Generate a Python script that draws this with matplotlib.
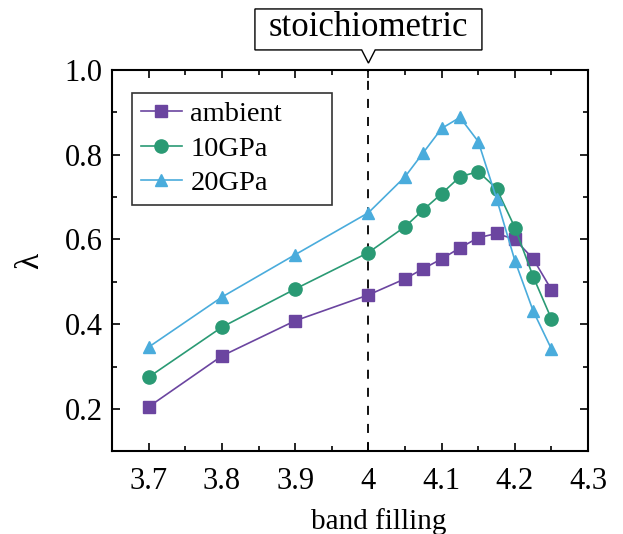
import matplotlib
matplotlib.use("Agg")
import matplotlib.pyplot as plt
from matplotlib.patches import Polygon
from matplotlib.ticker import MultipleLocator
import matplotlib.transforms as mtransforms

plt.rcParams["font.family"] = ["Liberation Serif", "DejaVu Serif"]

filling = [3.7, 3.8, 3.9, 4.0, 4.05, 4.075, 4.1, 4.125, 4.15, 4.175, 4.2, 4.225, 4.25]
lam_ambient = [0.205, 0.325, 0.408, 0.469, 0.507, 0.531, 0.554, 0.580, 0.604, 0.614, 0.600, 0.554, 0.481]
lam_10gpa = [0.275, 0.393, 0.483, 0.569, 0.630, 0.670, 0.708, 0.748, 0.760, 0.720, 0.628, 0.512, 0.412]
lam_20gpa = [0.346, 0.464, 0.564, 0.663, 0.748, 0.805, 0.862, 0.888, 0.831, 0.696, 0.550, 0.431, 0.341]

fig = plt.figure(figsize=(6.23, 5.34), dpi=100)
ax = fig.add_axes([0.18, 0.155, 0.764, 0.714])

ax.plot(filling, lam_ambient, "-s", color="#6b45a0", lw=1.2, ms=8, label="ambient")
ax.plot(filling, lam_10gpa, "-o", color="#2a9a74", lw=1.2, ms=9.5, label="10GPa")
ax.plot(filling, lam_20gpa, "-^", color="#4aacdc", lw=1.2, ms=9, label="20GPa")

ax.axvline(4.0, color="black", lw=1.3, ls=(0, (5, 5)), zorder=0)

ax.set_xlim(3.65, 4.3)
ax.set_ylim(0.1, 1.0)
ax.xaxis.set_minor_locator(MultipleLocator(0.05))
ax.yaxis.set_minor_locator(MultipleLocator(0.1))
ax.set_xticks([3.7, 3.8, 3.9, 4.0, 4.1, 4.2, 4.3])
ax.set_xticklabels(["3.7", "3.8", "3.9", "4", "4.1", "4.2", "4.3"])
ax.set_yticks([0.2, 0.4, 0.6, 0.8, 1.0])
ax.set_yticklabels(["0.2", "0.4", "0.6", "0.8", "1.0"])
ax.tick_params(which="both", direction="in", top=True, right=True, width=1.2)
ax.tick_params(which="major", length=6, labelsize=22)
ax.tick_params(axis="x", which="major", pad=11)
ax.tick_params(axis="y", which="major", pad=7)
ax.tick_params(which="minor", length=3.5)
for s in ax.spines.values():
    s.set_linewidth(1.5)

ax.set_xlabel("band filling", fontsize=21, labelpad=9)
ax.xaxis.label.set_x(0.561)
ax.set_ylabel("λ", fontsize=24, labelpad=14)

leg = ax.legend(loc="upper left", bbox_to_anchor=(0.042, 0.654, 0.42, 0.286),
                mode="expand", borderaxespad=0,
                fontsize=20.5, frameon=True, fancybox=False, handlelength=1.45,
                handletextpad=0.3, labelspacing=0.3, borderpad=0.3)
leg.get_frame().set_edgecolor("black")
leg.get_frame().set_linewidth(1.2)

# callout box above the plot
trans = mtransforms.blended_transform_factory(ax.transData, ax.transAxes)
half_w = 0.155
box_top, box_bot, tip = 1.160, 1.0525, 1.018
nw = 0.0092
pts = [(4.0 - half_w, box_top), (4.0 + half_w, box_top), (4.0 + half_w, box_bot),
       (4.0 + nw, box_bot), (4.0, tip), (4.0 - nw, box_bot), (4.0 - half_w, box_bot)]
ax.add_patch(Polygon(pts, closed=True, transform=trans, facecolor="white",
                     edgecolor="black", lw=1.0, clip_on=False))
ax.text(4.0, (box_top + box_bot) / 2 + 0.005, "stoichiometric", transform=trans,
        ha="center", va="center", fontsize=25)

fig.savefig("out.png", dpi=100)
